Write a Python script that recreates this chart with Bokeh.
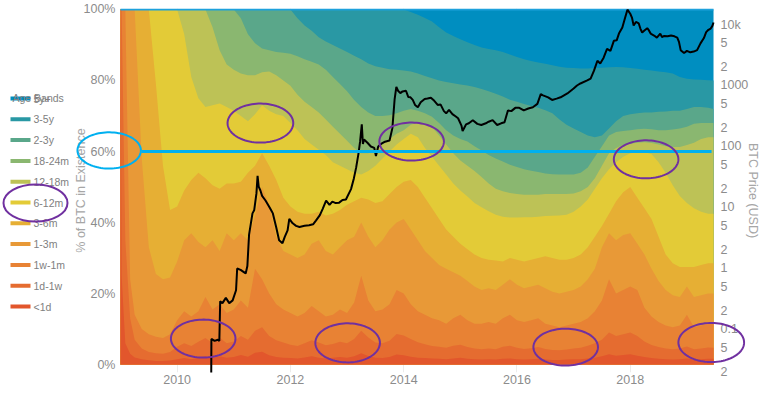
import numpy as np
from bokeh.plotting import figure
from bokeh.models import (Range1d, LogAxis, LogScale, FixedTicker, CustomJSTickFormatter,
                          PrintfTickFormatter, PolyAnnotation)
from bokeh.layouts import row
from bokeh.embed import file_html
from bokeh.resources import INLINE
from bokeh.core.properties import value

# ---------------- data ----------------
years = [2009.0, 2009.02, 2009.085, 2009.17, 2009.25, 2009.375, 2009.5, 2009.625, 2009.75, 2009.875,
         2010.0, 2010.125, 2010.25, 2010.375, 2010.5, 2010.625, 2010.75, 2010.875,
         2011.0, 2011.125, 2011.25, 2011.375, 2011.5, 2011.625, 2011.75, 2011.875,
         2012.0, 2012.125, 2012.25, 2012.375, 2012.5, 2012.625, 2012.75, 2012.875,
         2013.0, 2013.125, 2013.25, 2013.375, 2013.5, 2013.625, 2013.75, 2013.875,
         2014.0, 2014.125, 2014.25, 2014.375, 2014.5, 2014.625, 2014.75, 2014.875,
         2015.0, 2015.125, 2015.25, 2015.375, 2015.5, 2015.625, 2015.75, 2015.875,
         2016.0, 2016.125, 2016.25, 2016.375, 2016.5, 2016.625, 2016.75, 2016.875,
         2017.0, 2017.125, 2017.25, 2017.375, 2017.5, 2017.625, 2017.75, 2017.875,
         2018.0, 2018.125, 2018.25, 2018.375, 2018.5, 2018.625, 2018.75, 2018.875,
         2019.0, 2019.125, 2019.25, 2019.375, 2019.47]

# cumulative % of BTC in existence younger than each age limit
lt_1d = [100, 25, 6, 3, 2, 1.5, 1.2, 1.0, 1.0, 1.1,
         1.5, 1.8, 1.5, 1.9, 2.3, 1.8, 2.3, 1.9,
         2.1, 2.7, 2.2, 3.3, 3.6, 2.6, 2.1, 1.9,
         1.8, 1.7, 2.0, 2.3, 1.9, 1.7, 1.9, 2.1,
         1.9, 2.3, 3.2, 2.4, 1.9, 1.8, 2.1, 2.8,
         2.6, 2.2, 1.9, 1.8, 1.7, 1.6, 1.5, 1.7,
         1.9, 1.6, 1.5, 1.4, 1.5, 1.4, 1.6, 1.7,
         1.5, 1.4, 1.5, 1.6, 1.4, 1.3, 1.3, 1.4,
         1.5, 1.5, 1.7, 1.9, 2.3, 2.9, 2.5, 2.7,
         2.9, 2.5, 2.1, 1.8, 1.6, 1.5, 1.4, 1.5,
         1.7, 1.4, 1.5, 1.6, 1.6]
lt_1w = [100, 100, 35, 13, 7, 4.5, 3.5, 3.2, 3.0, 3.5,
         5.0, 6.0, 5.2, 6.4, 7.5, 6.0, 7.6, 6.0,
         6.5, 8.0, 7.0, 9.5, 10.5, 8.0, 6.8, 6.2,
         5.6, 5.2, 6.0, 6.8, 6.2, 5.4, 5.8, 6.4,
         6.0, 7.2, 9.5, 7.6, 6.2, 6.0, 6.7, 8.6,
         8.2, 7.2, 6.3, 5.7, 5.2, 5.0, 4.7, 5.3,
         5.6, 4.9, 4.5, 4.3, 4.5, 4.3, 5.0, 5.3,
         4.7, 4.4, 4.6, 4.9, 4.4, 4.1, 4.0, 4.2,
         4.5, 4.7, 5.3, 6.0, 7.0, 9.0, 8.0, 8.5,
         9.0, 8.0, 6.5, 5.5, 4.9, 4.5, 4.3, 4.5,
         5.1, 4.3, 4.5, 4.8, 4.7]
lt_1m = [100, 100, 100, 24, 14, 10, 8.5, 7.8, 7.5, 8.5,
         12.5, 15, 13.5, 15, 19, 15.5, 17, 14.5,
         15.5, 18, 16, 27, 24, 20, 17, 15.5,
         14.5, 13.5, 14.5, 16.5, 15, 13.5, 14, 15.5,
         14.5, 17.5, 25, 18, 15, 15.5, 17, 21,
         20, 17, 15, 14, 13, 12.5, 11.5, 13,
         14, 12.5, 11.5, 11.5, 12, 11.5, 13, 14,
         12.5, 12, 12.5, 13, 11.5, 11, 10.5, 11,
         11.5, 12, 13, 15, 18, 24, 20, 21,
         22, 21, 16, 13.5, 12, 11, 10.5, 11,
         14, 10.5, 11, 11.5, 11.5]
lt_3m = [100, 100, 100, 100, 100, 58, 33, 25.5, 24, 24.5,
         29, 35, 37, 34.5, 33, 35, 32, 37,
         35, 37, 35, 42, 50, 45, 36, 32,
         31, 30, 31, 34, 35, 32, 31, 33,
         35, 36, 40, 36, 33, 35, 38, 40,
         41, 38, 35, 32, 30, 28, 27, 26,
         25, 23.5, 22, 21, 21.5, 21, 22.5, 24,
         22.5, 21.5, 22, 22.5, 21.5, 20.5, 20, 20.5,
         21, 22, 24, 27, 33, 37, 35, 36.5,
         37, 34, 31, 27, 23.5, 21, 19.5, 19,
         22, 19, 19.5, 20, 20]
lt_6m = [100, 100, 100, 100, 100, 100, 100, 79, 56, 43.5,
         44.5, 49, 52, 54, 52.5, 50.5, 49.5, 51,
         51, 51.5, 54, 56, 59.5, 56, 52, 47,
         44.5, 43, 42.5, 42.5, 43, 42, 42.5, 43.5,
         45, 46, 47, 46.5, 45.5, 46, 48, 50,
         51.5, 52, 50, 47, 44, 41, 38, 36,
         34, 32.5, 31, 30, 29.5, 29.3, 29, 30,
         29.5, 29, 29.5, 30, 30.5, 30, 29.5, 29.5,
         30, 31, 33, 36, 39, 42.5, 46, 48.5,
         50, 47, 44, 41, 36, 31, 28.5, 27.5,
         27.5, 27.5, 28, 28.5, 28.5]
lt_12m = [100, 100, 100, 100, 100, 100, 100, 100, 100, 100,
          100, 93, 81, 75, 72.5, 73, 73.5, 72.5,
          71.5, 70, 68.5, 70.5, 73, 71.5, 70.5, 70,
          68, 66, 63.5, 62, 60.5, 59, 57, 56,
          55, 54, 53.5, 54.5, 56, 58, 60, 62,
          63.5, 65, 64, 61, 58.5, 56, 53.5, 51,
          49, 47.3, 45.5, 44.3, 43.2, 42.2, 41.6, 41.4,
          41.4, 41.5, 41.5, 41.6, 41.8, 41.9, 42, 42.2,
          43, 44.5, 46.5, 49.5, 52.5, 55, 57, 58.5,
          59.5, 59.8, 59.8, 59.3, 57, 54, 50.5, 47.5,
          45.5, 44, 43, 42.5, 42.5]
lt_18m = [100, 100, 100, 100, 100, 100, 100, 100, 100, 100,
          100, 100, 100, 100, 100, 95, 88.5, 84.5,
          83, 82, 81.5, 81.5, 82.3, 82.5, 81.5, 80,
          78.5, 76, 74, 72.5, 71, 69, 67, 65,
          63, 61, 59.5, 59.5, 60.5, 62, 63.5, 65,
          66, 67.5, 68.2, 67.8, 66.8, 64.5, 62, 59.5,
          57.5, 56, 54.5, 52.8, 51, 49.5, 48.8, 48.3,
          48, 47.8, 47.8, 47.8, 48, 48, 48, 48,
          48.2, 48.8, 50, 52.5, 56, 59.5, 61, 61.8,
          62.2, 62.5, 62.6, 62.4, 62, 61.5, 61.3, 61.3,
          61.8, 62.5, 63.5, 64, 64]
lt_24m = [100, 100, 100, 100, 100, 100, 100, 100, 100, 100,
          100, 100, 100, 100, 100, 100, 100, 100,
          100, 97.5, 93, 90.5, 89, 88.5, 88, 87.8,
          87.5, 86.8, 86, 85.3, 84.5, 83, 81, 79,
          77, 74.5, 72.5, 71, 70, 70, 70.2, 70.8,
          71.5, 72, 71.5, 70.8, 69.8, 68, 66, 64.5,
          63.5, 62.8, 61.5, 60.3, 59, 58, 57.2, 56.3,
          55.6, 55, 54.6, 54.2, 53.8, 53.6, 53.5, 53.5,
          53.5, 54, 55.5, 58.5, 61.5, 64.5, 65.5, 65.8,
          66, 66.3, 66.4, 66.3, 66, 66, 66.2, 66.5,
          67, 67.8, 68, 68, 68]
lt_3y = [100, 100, 100, 100, 100, 100, 100, 100, 100, 100,
         100, 100, 100, 100, 100, 100, 100, 100,
         100, 100, 100, 100, 100, 100, 100, 100,
         100, 97.5, 95.5, 94, 92.2, 91, 90, 89,
         88, 87, 86, 84.8, 84, 83.6, 83.2, 83,
         82.8, 82.5, 82, 81.3, 80.6, 80, 79.6, 79.2,
         78.9, 78.6, 78.2, 77.6, 77, 76.3, 75.5, 74.6,
         74, 73.4, 72.8, 72.3, 71.6, 70.8, 69, 67.5,
         66.5, 65.5, 64.5, 64, 64.5, 66.5, 68.5, 70,
         70.5, 70.8, 71, 71, 71.2, 71.3, 71.5, 71.5,
         72, 72.5, 72.5, 72.3, 72]
lt_5y = [100, 100, 100, 100, 100, 100, 100, 100, 100, 100,
         100, 100, 100, 100, 100, 100, 100, 100,
         100, 100, 100, 100, 100, 100, 100, 100,
         100, 100, 100, 100, 100, 100, 100, 100,
         100, 100, 100, 100, 100, 100, 100, 100,
         100, 99.3, 98.5, 97.6, 96.6, 95, 93.5, 92.5,
         91.6, 90.8, 90, 89.3, 88.9, 88.5, 88, 87.3,
         86.6, 86, 85.5, 85.1, 84.7, 84.3, 83.9, 83.6,
         83.5, 83.4, 83.4, 83.5, 83.6, 83.7, 83.8, 83.7,
         83.5, 83.3, 83, 82.8, 82.5, 82.3, 82, 81,
         80.5, 80.3, 80.2, 80.1, 80]
all_btc = [100] * len(years)

age_bands = ["5y+", "3-5y", "2-3y", "18-24m", "12-18m", "6-12m", "3-6m", "1-3m", "1w-1m", "1d-1w", "<1d"]
band_colors = ["#008ec0", "#2998a4", "#5aa78a", "#8ab770", "#bdc256", "#e3cb37",
               "#e6af34", "#e89937", "#e88234", "#e56c30", "#e2562c"]
band_upper = [all_btc, lt_5y, lt_3y, lt_24m, lt_18m, lt_12m, lt_6m, lt_3m, lt_1m, lt_1w, lt_1d]

price_t = [2010.60, 2010.605, 2010.66, 2010.72, 2010.745, 2010.76, 2010.80, 2010.86, 2010.92, 2010.98,
           2011.04, 2011.06, 2011.12, 2011.21, 2011.24, 2011.27, 2011.33, 2011.36, 2011.40, 2011.42,
           2011.44, 2011.47, 2011.50, 2011.56, 2011.62, 2011.66, 2011.69, 2011.75, 2011.80, 2011.86,
           2011.90, 2011.95, 2011.98, 2012.04, 2012.10, 2012.16, 2012.25, 2012.33, 2012.40, 2012.45,
           2012.52, 2012.57, 2012.63, 2012.69, 2012.74, 2012.80, 2012.86, 2012.92, 2012.98, 2013.07,
           2013.12, 2013.16, 2013.20, 2013.23, 2013.26, 2013.28, 2013.30, 2013.36, 2013.42, 2013.48,
           2013.51, 2013.55, 2013.60, 2013.67, 2013.75, 2013.80, 2013.84, 2013.87, 2013.90, 2013.94,
           2013.98, 2014.04, 2014.08, 2014.12, 2014.16, 2014.20, 2014.25, 2014.30, 2014.37, 2014.42,
           2014.48, 2014.54, 2014.60, 2014.65, 2014.71, 2014.75, 2014.80, 2014.86, 2014.92, 2014.96,
           2015.02, 2015.04, 2015.10, 2015.15, 2015.22, 2015.30, 2015.37, 2015.45, 2015.50, 2015.57,
           2015.65, 2015.72, 2015.78, 2015.84, 2015.90, 2015.97, 2016.04, 2016.12, 2016.20, 2016.28,
           2016.36, 2016.42, 2016.46, 2016.55, 2016.62, 2016.70, 2016.77, 2016.89, 2017.00, 2017.06,
           2017.12, 2017.24, 2017.30, 2017.36, 2017.42, 2017.47, 2017.53, 2017.59, 2017.65, 2017.71,
           2017.76, 2017.80, 2017.86, 2017.91, 2017.95, 2018.00, 2018.03, 2018.06, 2018.10, 2018.15,
           2018.18, 2018.21, 2018.25, 2018.30, 2018.33, 2018.36, 2018.42, 2018.47, 2018.53, 2018.56,
           2018.60, 2018.66, 2018.72, 2018.78, 2018.83, 2018.86, 2018.89, 2018.95, 2019.00, 2019.06,
           2019.12, 2019.18, 2019.24, 2019.30, 2019.34, 2019.38, 2019.42, 2019.45, 2019.47]
price_usd = [0.008, 0.07, 0.065, 0.068, 0.065, 0.29, 0.27, 0.33, 0.27, 0.30,
             0.44, 1.0, 0.95, 0.83, 1.1, 3.6, 8.0, 9.0, 17, 33,
             22, 19, 15.5, 13, 10.5, 9, 8, 4.7, 2.9, 2.6,
             3.3, 4.2, 6.5, 5.5, 5.0, 4.8, 5.0, 5.1, 5.3, 6.1,
             7.5, 9.5, 13, 11, 12.5, 11.8, 12, 13.3, 13.5, 20,
             30, 45, 75, 120, 230, 110, 130, 115, 100, 95,
             70, 100, 110, 120, 125, 200, 600, 950, 820, 750,
             800, 820, 650, 640, 580, 480, 440, 530, 600, 610,
             630, 560, 480, 490, 380, 350, 400, 340, 310, 290,
             220, 180, 230, 240, 270, 235, 225, 240, 255, 270,
             225, 240, 250, 390, 380, 430, 430, 390, 420, 440,
             500, 720, 690, 640, 580, 610, 640, 740, 890, 1000,
             1080, 1210, 1300, 1750, 2550, 2300, 2860, 4000, 3700, 5400,
             5500, 7100, 8900, 13000, 17500, 15000, 13000, 9600, 11000, 10400,
             8500, 7400, 8000, 8700, 8000, 7100, 6600, 6100, 7100, 6200,
             6500, 6400, 6600, 6400, 6100, 5200, 3800, 3400, 3700, 3500,
             3600, 3800, 4900, 6000, 7500, 8200, 8600, 9500, 10800]

pct_ticks = [0, 20, 40, 60, 80, 100]
year_ticks = [2010, 2012, 2014, 2016, 2018]
price_ticks = [0.02, 0.05, 0.1, 0.2, 0.5, 1, 2, 5, 10, 20, 50, 100, 200, 500,
               1000, 2000, 5000, 10000, 20000]

# annotation marks (centre year, centre %, half-width in years, half-height in %)
purple_rings = [(2011.47, 68.0, 0.58, 5.5), (2014.14, 62.8, 0.57, 5.35), (2018.28, 57.8, 0.57, 5.35),
                (2010.46, 7.3, 0.57, 5.35), (2013.01, 6.1, 0.57, 5.5), (2016.86, 4.9, 0.57, 5.2),
                (2019.43, 6.2, 0.58, 5.5)]
cyan_ring = (2008.80, 60.3, 0.56, 5.1)
highlight_level = 60
highlight_from, highlight_to = 2009.37, 2019.435

FONT = "Liberation Sans"
PURPLE = "#7030a0"
CYAN = "#00b0f0"

# ---------------- main chart ----------------
# the frame reaches past the data on both sides so the circled marks there stay visible
p = figure(width=693, height=402, x_range=Range1d(2008.1525, 2020.0346), y_range=Range1d(-2.25, 100.28),
           toolbar_location=None, output_backend="svg",
           min_border_left=2, min_border_right=18, min_border_top=8, min_border_bottom=30)
p.outline_line_color = None
p.ygrid.grid_line_color = None
p.xgrid.grid_line_color = "#ececec"

for upper, col in zip(band_upper, band_colors):
    p.varea(x=years, y1=0, y2=upper, fill_color=col, fill_alpha=1.0)
p.line(years, all_btc, line_color="#1da1dc", line_width=2)

p.extra_y_ranges = {"price": Range1d(0.0197, 18300)}
p.extra_y_scales = {"price": LogScale()}
p.line(price_t, price_usd, y_range_name="price", line_color="black", line_width=2)

# axes
xa = p.below[0]
xa.ticker = FixedTicker(ticks=year_ticks)
xa.formatter = PrintfTickFormatter(format="%d")
ya = p.left[0]
ya.ticker = FixedTicker(ticks=pct_ticks)
ya.formatter = PrintfTickFormatter(format="%d%%")
ya.axis_label = "% of BTC in Existence"

ra = LogAxis(y_range_name="price", ticker=FixedTicker(ticks=price_ticks),
             formatter=CustomJSTickFormatter(code="""
const e = Math.floor(Math.log10(tick) + 1e-9);
const m = Math.round(tick / Math.pow(10, e));
if (m === 1) {
  if (tick >= 10000) return (tick / 1000).toFixed(0) + 'k';
  if (tick < 1) return tick.toFixed(-e);
  return tick.toFixed(0);
}
return m.toString();
"""), axis_label="BTC Price (USD)")
p.add_layout(ra, "right")

for ax in [xa, ya, ra]:
    ax.axis_line_color = None
    ax.major_tick_line_color = None
    ax.minor_tick_line_color = None
    ax.major_tick_out = 0
    ax.major_tick_in = 0
    ax.minor_tick_out = 0
    ax.minor_tick_in = 0
    ax.major_label_text_font = FONT
    ax.major_label_text_font_size = "12.5px"
    ax.major_label_text_color = "#8c8c8c"
    ax.axis_label_text_font = FONT
    ax.axis_label_text_font_size = "12.5px"
    ax.axis_label_text_font_style = "normal"
    ax.axis_label_text_color = "#a6a6a6"
xa.major_label_standoff = 2
ya.major_label_standoff = -43
ya.axis_label_standoff = -7
ra.major_label_standoff = -25
ra.axis_label_standoff = -5

# annotations
p.line([highlight_from, highlight_to], [highlight_level, highlight_level], line_color=CYAN, line_width=3)

def ring(cx, cy, rx, ry, n=90):
    th = np.linspace(0, 2 * np.pi, n)
    return list(cx + rx * np.cos(th)), list(cy + ry * np.sin(th))

for (cx, cy, rx, ry) in purple_rings:
    xs, ys = ring(cx, cy, rx, ry)
    p.add_layout(PolyAnnotation(xs=xs, ys=ys, fill_alpha=0, line_color=PURPLE, line_alpha=1.0,
                                line_width=2))
xs, ys = ring(*cyan_ring)
p.add_layout(PolyAnnotation(xs=xs, ys=ys, fill_alpha=0, line_color=CYAN, line_alpha=1.0, line_width=2))

# ---------------- legend panel (coordinates = page pixels) ----------------
lg = figure(width=70, height=402, x_range=Range1d(0, 70), y_range=Range1d(372, 8),
            toolbar_location=None, output_backend="svg",
            min_border_left=0, min_border_right=0, min_border_top=8, min_border_bottom=30,
            x_axis_location=None, y_axis_location=None)
lg.grid.visible = False
lg.outline_line_color = None
row_y = [98 + 20.8 * i for i in range(len(age_bands))]
lg.rect(x=20, y=row_y, width=20, height=4, fill_color=band_colors, line_color=None)
lg.text(x=33, y=row_y, text=age_bands, text_baseline="middle", text_font=value(FONT),
        text_font_size="10.5px", text_color="#808080")
lg.text(x=[12], y=[97], text=["Age Bands"], text_baseline="middle", text_font=value(FONT),
        text_font_size="10.5px", text_color="#808080")
lg.ellipse(x=[35], y=[row_y[5] + 0.5], width=64, height=37, fill_color=None,
           line_color=PURPLE, line_width=2)

layout = row(lg, p)
open("out.html", "w").write(file_html(layout, INLINE))
